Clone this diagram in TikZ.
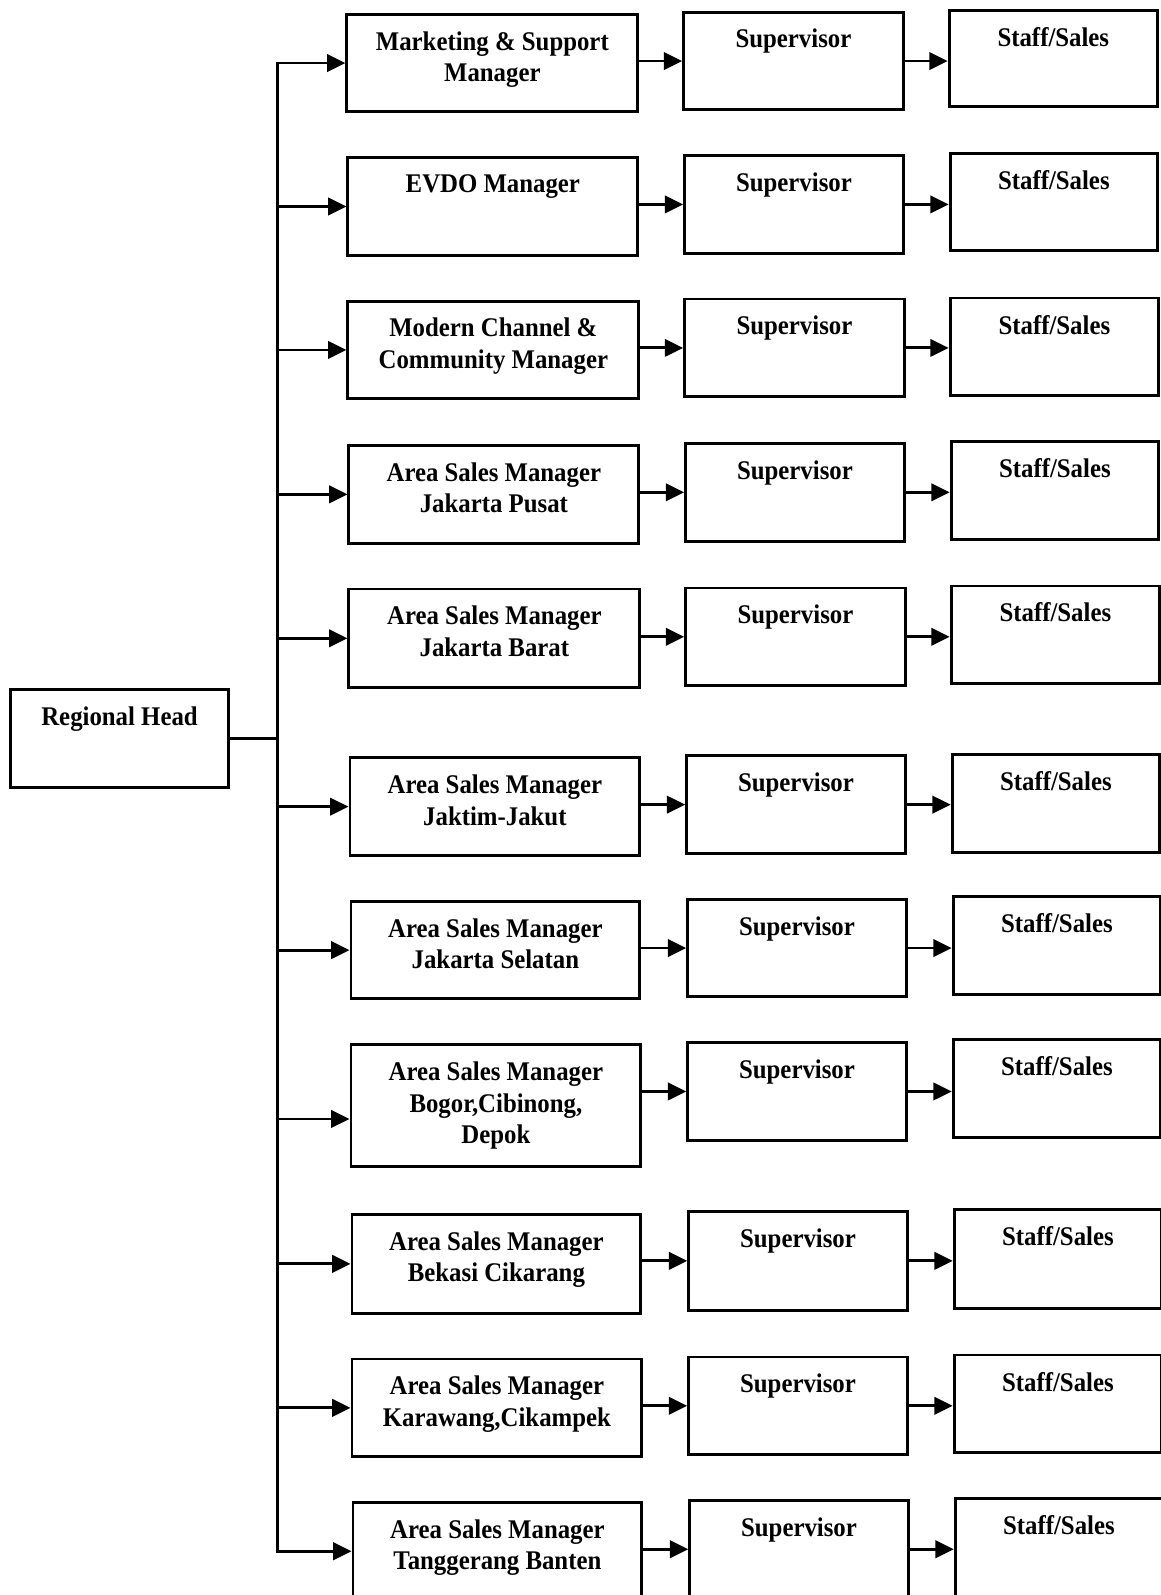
\documentclass[tikz,border=0pt]{standalone}
\usepackage{fontspec}
\setmainfont[FakeStretch=0.92]{Liberation Serif}
\usetikzlibrary{arrows.meta}
\newcommand\mybox[6]{%
  \node[box, minimum width={#4pt-#2pt}, minimum height={#5pt-#3pt}] (#1) at ({(#2+#4)/2},{(#3+#5)/2}) {};
  \node[lbl] (#1t) at ([yshift=-18pt]#1.north) {#6};}
\begin{document}
\begin{tikzpicture}[x=1pt,y=-1pt,
  box/.style={draw=black, line width=2.8pt, rectangle, inner sep=0pt},
  lbl/.style={font=\fontsize{26.5}{31}\selectfont\bfseries, align=center, inner sep=0pt, anchor=north},
  arr/.style={line width=2.8pt, -{Triangle[length=18pt,width=17pt]}},
  ln/.style={line width=2.8pt, line cap=rect}]
\useasboundingbox[fill=white] (0,0) rectangle (1141,1568);

% Regional head
\mybox{rh}{10}{678}{225}{774}{Regional Head}

% managers
\mybox{m1}{341}{14}{627}{110}{Marketing \& Support\\Manager}
\mybox{m2}{342}{155}{627}{251}{EVDO Manager}
\mybox{m3}{342}{296}{628}{392}{Modern Channel \&\\Community Manager}
\mybox{m4}{343}{438}{628}{534}{Area Sales Manager\\Jakarta Pusat}
\mybox{m5}{343}{579}{629}{676}{Area Sales Manager\\Jakarta Barat}
\mybox{m6}{344}{745}{629}{841}{Area Sales Manager\\Jaktim-Jakut}
\mybox{m7}{345}{886}{629}{982}{Area Sales Manager\\Jakarta Selatan}
\mybox{m8}{345}{1027}{630}{1147}{Area Sales Manager\\Bogor,Cibinong,\\Depok}
\mybox{m9}{346}{1194}{630}{1291}{Area Sales Manager\\Bekasi Cikarang}
\mybox{m10}{346}{1336}{631}{1432}{Area Sales Manager\\Karawang,Cikampek}
\mybox{m11}{347}{1477}{631}{1573}{Area Sales Manager\\Tanggerang Banten}

% supervisors
\mybox{s1}{672}{12}{888}{108}{Supervisor}
\mybox{s2}{673}{153}{888}{249}{Supervisor}
\mybox{s3}{673}{294}{889}{390}{Supervisor}
\mybox{s4}{674}{436}{889}{532}{Supervisor}
\mybox{s5}{674}{578}{890}{674}{Supervisor}
\mybox{s6}{675}{743}{890}{839}{Supervisor}
\mybox{s7}{676}{884}{891}{980}{Supervisor}
\mybox{s8}{676}{1025}{891}{1121}{Supervisor}
\mybox{s9}{677}{1191}{892}{1288}{Supervisor}
\mybox{s10}{677}{1334}{892}{1430}{Supervisor}
\mybox{s11}{678}{1475}{893}{1571}{Supervisor}

% staff
\mybox{t1}{933}{10}{1138}{105}{Staff/Sales}
\mybox{t2}{934}{151}{1138}{246}{Staff/Sales}
\mybox{t3}{934}{293}{1139}{389}{Staff/Sales}
\mybox{t4}{935}{434}{1139}{530}{Staff/Sales}
\mybox{t5}{935}{576}{1140}{672}{Staff/Sales}
\mybox{t6}{936}{742}{1140}{838}{Staff/Sales}
\mybox{t7}{937}{881}{1141}{978}{Staff/Sales}
\mybox{t8}{937}{1022}{1141}{1118}{Staff/Sales}
\mybox{t9}{938}{1189}{1142}{1286}{Staff/Sales}
\mybox{t10}{938}{1332}{1142}{1428}{Staff/Sales}
\mybox{t11}{939}{1473}{1143}{1569}{Staff/Sales}

% trunk
\coordinate (tr) at (273,0);
\coordinate (m8in) at ([yshift=-13pt]m8.west);
\draw[ln] (tr |- m1.west) -- (tr |- m11.west);
\draw[ln] (rh.east) -- (tr |- rh.east);

% branches
\foreach \i in {1,2,3,4,5,6,7,9,10,11}{
  \draw[arr] (tr |- m\i.west) -- (m\i.west);
}
\draw[arr] (tr |- m8in) -- (m8in);

\foreach \i in {1,...,11}{
  \draw[arr] (m\i.east |- s\i.west) -- (s\i.west);
  \draw[arr] (s\i.east) -- (t\i.west |- s\i.east);
}
\end{tikzpicture}
\end{document}
